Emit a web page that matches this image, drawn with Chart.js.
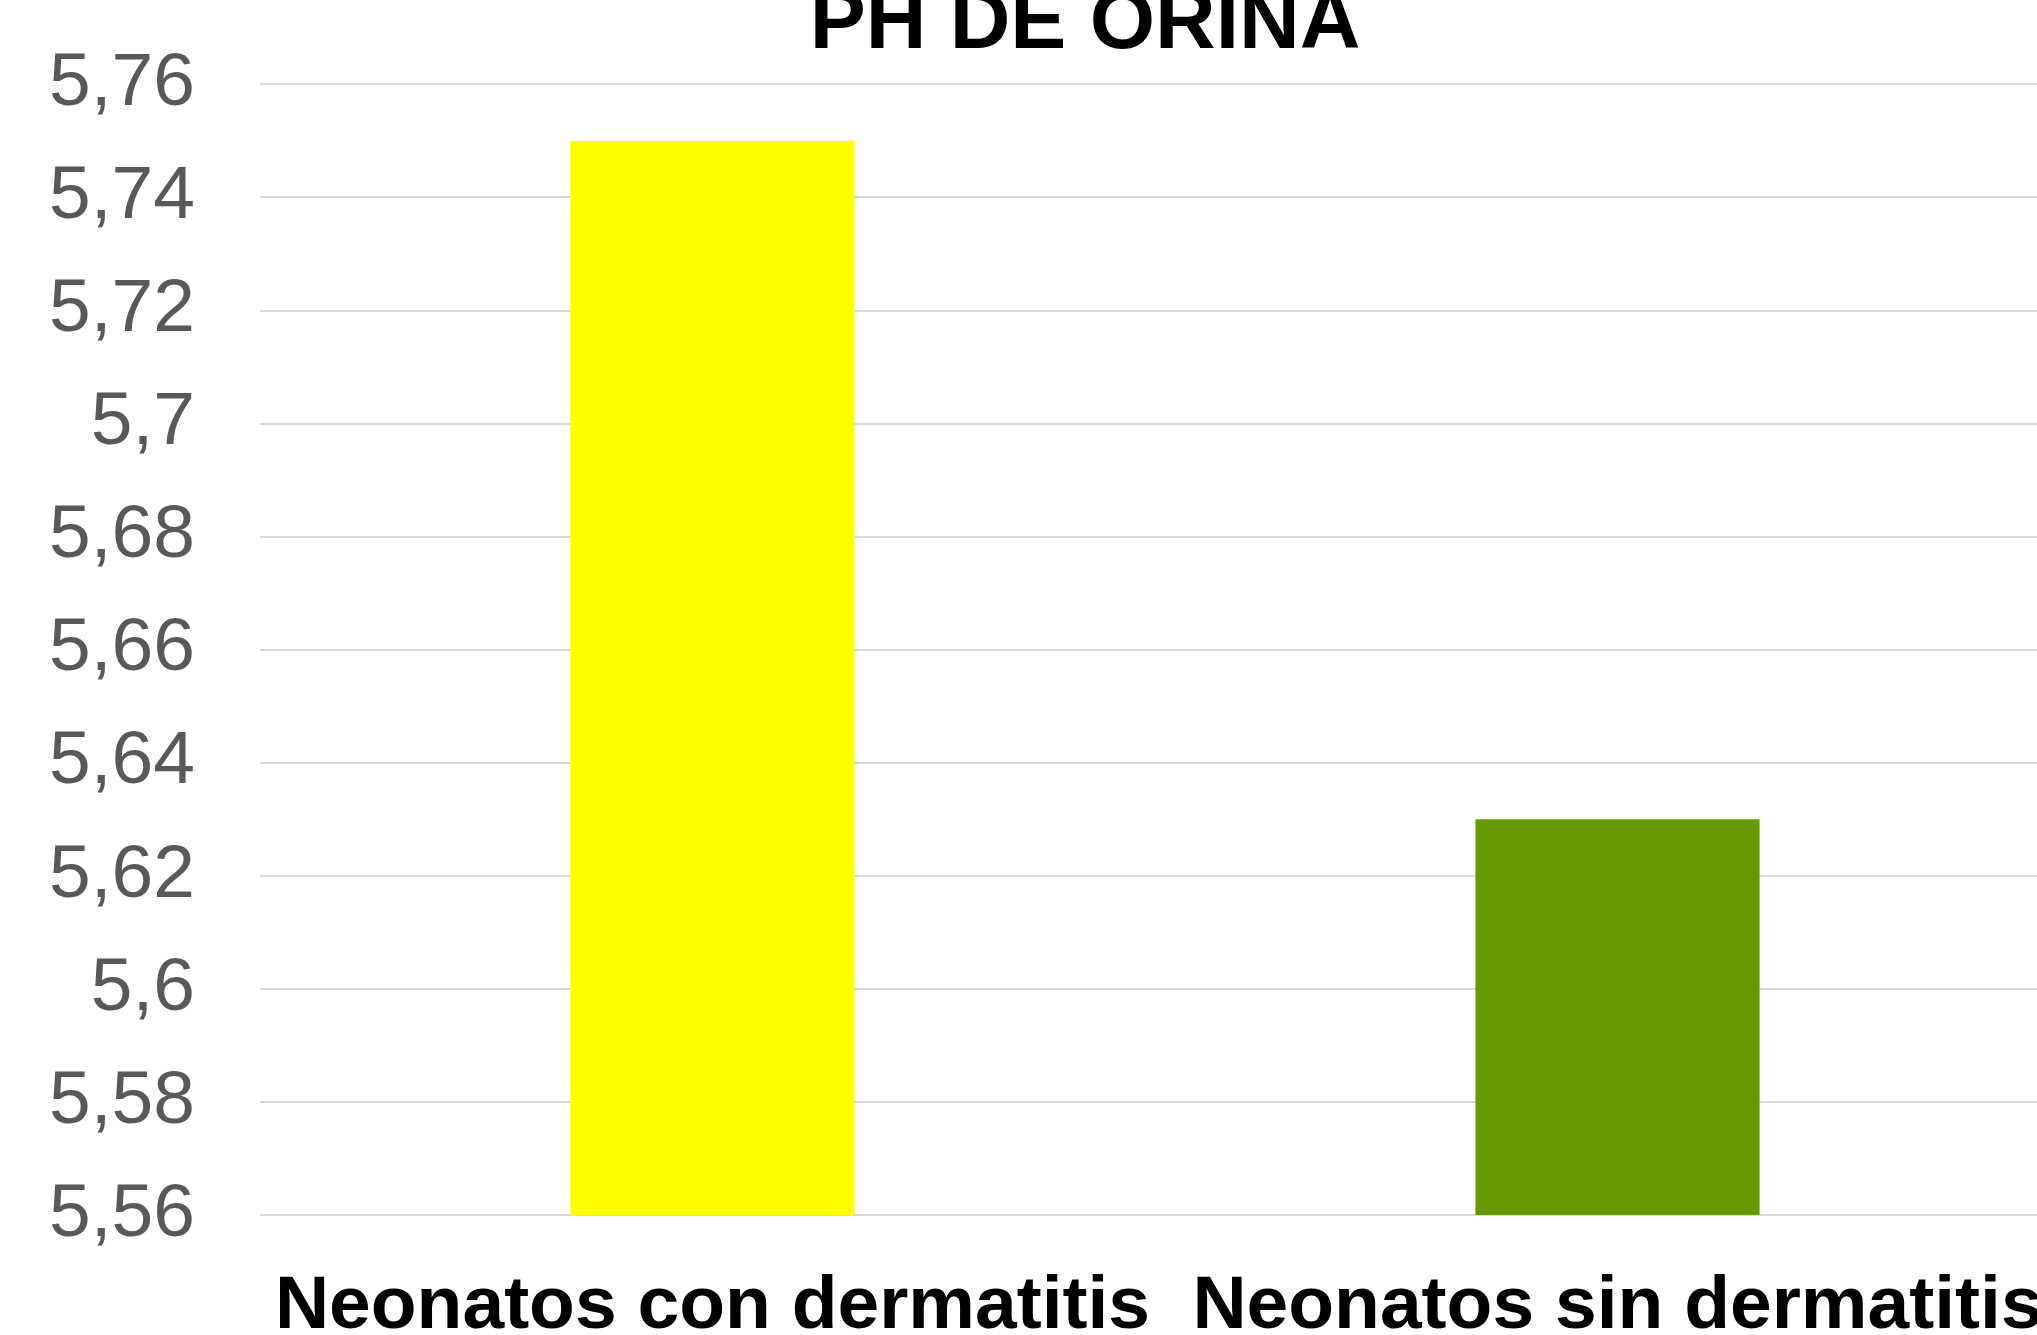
<!DOCTYPE html>
<html>
<head>
<meta charset="utf-8">
<script src="https://cdn.jsdelivr.net/npm/chart.js@4"></script>
<style>
  html, body { margin: 0; padding: 0; overflow: hidden; background: #fff; }
  canvas { display: block; }
</style>
</head>
<body>
<canvas id="phChart" width="2170" height="1352"></canvas>
<script>
// data
const categories = ['Neonatos con dermatitis', 'Neonatos sin dermatitis'];
const phValues = [5.75, 5.63];
const yTickLabels = ['5,56', '5,58', '5,6', '5,62', '5,64', '5,66', '5,68', '5,7', '5,72', '5,74', '5,76'];
const titleText = 'PH DE ORINA';

const fontFam = 'Liberation Sans, Arial, sans-serif';

const ctx = document.getElementById('phChart').getContext('2d');
const chart = new Chart(ctx, {
    type: 'bar',
    data: {
        labels: categories,
        datasets: [{
            label: 'pH',
            data: phValues,
            backgroundColor: ['#ffff00', '#669900'],
            borderWidth: 0,
            categoryPercentage: 1,
            barPercentage: 0.314
        }]
    },
    options: {
        responsive: false,
        animation: false,
        layout: { padding: 0 },
        plugins: {
            legend: { display: false },
            tooltip: { enabled: false },
            title: {
                display: true,
                text: titleText,
                color: '#000',
                font: { family: fontFam, size: 84, weight: 'bold', lineHeight: 0.58 },
                padding: { top: 0, bottom: 35.7 }
            }
        },
        scales: {
            x: {
                grid: { display: false, drawTicks: true, tickLength: 47 },
                border: { display: false },
                ticks: {
                    color: '#000',
                    autoSkip: false,
                    maxRotation: 0,
                    minRotation: 0,
                    padding: 0,
                    font: { family: fontFam, size: 75, weight: 'bold' }
                }
            },
            y: {
                min: 5.56,
                max: 5.76,
                ticks: {
                    stepSize: 0.02,
                    color: '#595959',
                    padding: 0,
                    font: { family: fontFam, size: 75 },
                    callback: (value, index) => yTickLabels[index]
                },
                grid: { color: '#d9d9d9', lineWidth: 2, drawTicks: true, tickLength: 65, tickColor: 'rgba(0,0,0,0)' },
                border: { display: false },
                afterFit: (scale) => { scale.width = 260; }
            },
            // empty right-hand strip: the plot runs past the picture's right edge
            yRight: {
                type: 'linear',
                position: 'right',
                ticks: { display: false },
                grid: { display: false, drawTicks: false },
                border: { display: false },
                afterFit: (scale) => { scale.width = 100; }
            }
        }
    }
});
</script>
</body>
</html>
